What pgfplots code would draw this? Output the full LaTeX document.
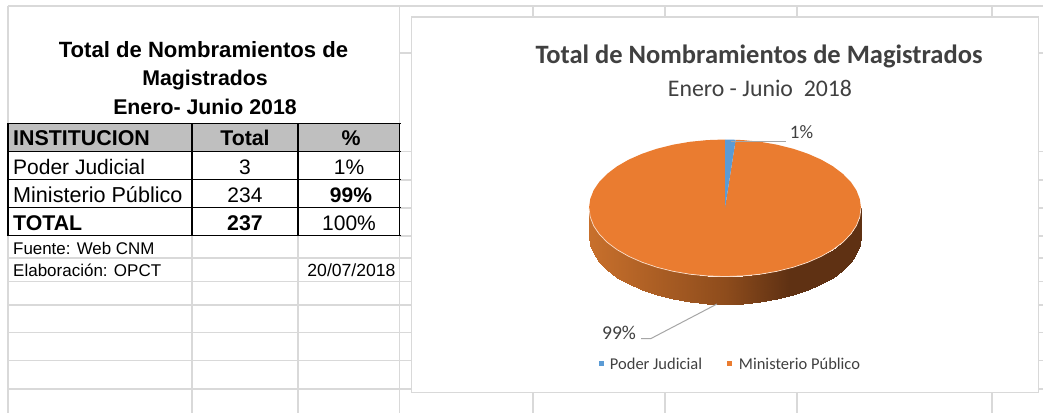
\documentclass[border=0pt]{standalone}
\usepackage{pgfplots}
\pgfplotsset{compat=1.18}
\usepackage{fontspec}
\setmainfont{Liberation Sans}
\newfontfamily\calib{Carlito}
\definecolor{gridc}{HTML}{D9D9D9}
\definecolor{txt}{HTML}{404040}
\definecolor{pblue}{HTML}{5B9BD5}
\definecolor{porange}{HTML}{EA7C30}
\definecolor{lead}{HTML}{A6A6A6}
\newcommand{\fs}[1]{\fontsize{#1bp}{#1bp}\selectfont}
\newcommand{\LT}[4]{\node[anchor=base west,inner sep=0pt,text=black] at (axis cs:#1,#2) {\fs{#3}#4};}
\newcommand{\CT}[4]{\node[anchor=base,inner sep=0pt,text=black] at (axis cs:#1,#2) {\fs{#3}#4};}
\newcommand{\RT}[4]{\node[anchor=base,inner sep=0pt,text=txt] at (axis cs:#1,#2) {\calib\fs{#3}#4};}
\begin{document}
\begin{tikzpicture}[x=1bp,y=1bp]
\begin{axis}[
  at={(0,0)},anchor=south west,
  width=1043bp,height=413bp,scale only axis,
  xmin=0,xmax=1043,ymin=0,ymax=413,y dir=reverse,
  hide axis,
  unbounded coords=jump,
  colormap={pie}{rgb255(0)=(200,112,44) rgb255(136)=(142,76,28) rgb255(200)=(95,49,19) rgb255(272)=(95,49,19)},
]
% page
\addplot[fill=white,draw=none,forget plot] coordinates {(0,0)(1043,0)(1043,413)(0,413)} -- cycle;
% spreadsheet grid
\addplot[gridc,line width=1.7bp,forget plot] coordinates {
 (8,6)(1043,6) (nan,nan)
 (8,6)(8,413) (nan,nan) (399.5,6)(399.5,413) (nan,nan)
 (192,123)(192,413) (nan,nan) (298,123)(298,413) (nan,nan)
 (532.7,6)(532.7,413) (nan,nan) (665,6)(665,413) (nan,nan)
 (797,6)(797,413) (nan,nan) (992,6)(992,413) (nan,nan)
 (400,53)(1043,53) (nan,nan)
 (400,151.5)(1043,151.5) (nan,nan) (400,180)(1043,180) (nan,nan)
 (400,208)(1043,208) (nan,nan) (400,236)(1043,236) (nan,nan)
 (8,258)(1043,258) (nan,nan) (8,281.5)(1043,281.5) (nan,nan)
 (8,305)(1043,305) (nan,nan) (8,332.5)(1043,332.5) (nan,nan)
 (8,360.5)(1043,360.5) (nan,nan) (8,389)(1043,389)
};
% chart panel
\addplot[fill=white,draw=gridc,line width=1.5bp,forget plot] coordinates {(411.3,17)(1038.7,17)(1038.7,392.7)(411.3,392.7)} -- cycle;
% table header and rules
\addplot[fill=black!25,draw=none,forget plot] coordinates {(8,123.5)(399.5,123.5)(399.5,151.5)(8,151.5)} -- cycle;
\addplot[black,line width=1.9bp,forget plot] coordinates {
 (7,123.5)(400.5,123.5) (nan,nan) (7,151.5)(400.5,151.5) (nan,nan)
 (7,179.5)(400.5,179.5) (nan,nan) (7,207.5)(400.5,207.5) (nan,nan)
 (7,235.5)(400.5,235.5) (nan,nan)
 (8,123.5)(8,235.5) (nan,nan) (192,123.5)(192,235.5) (nan,nan)
 (298,123.5)(298,235.5) (nan,nan) (399.5,123.5)(399.5,235.5)
};
% pie side
\addplot[surf,shader=interp,mesh/rows=2,mesh/cols=25,point meta=explicit,forget plot] coordinates {
 (589,208)[0] (590.2,216.9)[1.2] (593.6,225.7)[4.6] (599.3,234.2)[10.3] (607.2,242.3)[18.2]
 (617.1,249.7)[28.1] (628.8,256.4)[39.8] (642.2,262.3)[53.2] (657,267.3)[68] (673,271.3)[84]
 (689.8,274.2)[100.8] (707.2,275.9)[118.2] (725,276.5)[136] (742.8,275.9)[153.8] (760.2,274.2)[171.2]
 (777,271.3)[188] (793,267.3)[204] (807.8,262.3)[218.8] (821.2,256.4)[232.2] (832.9,249.7)[243.9]
 (842.8,242.3)[253.8] (850.7,234.2)[261.7] (856.4,225.7)[267.4] (859.8,216.9)[270.8] (861,208)[272]

 (589,236)[0] (590.2,244.9)[1.2] (593.6,253.7)[4.6] (599.3,262.2)[10.3] (607.2,270.3)[18.2]
 (617.1,277.7)[28.1] (628.8,284.4)[39.8] (642.2,290.3)[53.2] (657,295.3)[68] (673,299.3)[84]
 (689.8,302.2)[100.8] (707.2,303.9)[118.2] (725,304.5)[136] (742.8,303.9)[153.8] (760.2,302.2)[171.2]
 (777,299.3)[188] (793,295.3)[204] (807.8,290.3)[218.8] (821.2,284.4)[232.2] (832.9,277.7)[243.9]
 (842.8,270.3)[253.8] (850.7,262.2)[261.7] (856.4,253.7)[267.4] (859.8,244.9)[270.8] (861,236)[272]
};
% pie top: Ministerio Publico (234)
\addplot[fill=porange,draw=none,forget plot] coordinates {
 (725,208)(735.7,139.8)(742.8,140.1)(760.2,141.8)(777,144.7)(793,148.7)(807.8,153.7)(821.2,159.6)
 (832.9,166.3)(842.8,173.8)(850.7,181.8)(856.4,190.3)(859.8,199.1)(861,208)(859.8,216.9)(856.4,225.7)
 (850.7,234.2)(842.8,242.3)(832.9,249.7)(821.2,256.4)(807.8,262.3)(793,267.3)(777,271.3)(760.2,274.2)
 (742.8,275.9)(725,276.5)(707.2,275.9)(689.8,274.2)(673,271.3)(657,267.3)(642.2,262.3)(628.8,256.4)
 (617.1,249.7)(607.2,242.3)(599.3,234.2)(593.6,225.7)(590.2,216.9)(589,208)(590.2,199.1)(593.6,190.3)
 (599.3,181.8)(607.2,173.8)(617.1,166.3)(628.8,159.6)(642.2,153.7)(657,148.7)(673,144.7)(689.8,141.8)
 (707.2,140.1)(725,139.5)
} -- cycle;
% pie top: Poder Judicial (3)
\addplot[fill=pblue,draw=none,forget plot] coordinates {(725,208)(725,139.5)(730,139.6)(735.7,139.8)} -- cycle;
% rim
\addplot[color=white!75!porange,line width=.7bp,forget plot] coordinates {
 (589,208)(590.2,216.9)(593.6,225.7)(599.3,234.2)(607.2,242.3)(617.1,249.7)(628.8,256.4)(642.2,262.3)(657,267.3)(673,271.3)
 (689.8,274.2)(707.2,275.9)(725,276.5)(742.8,275.9)(760.2,274.2)(777,271.3)(793,267.3)(807.8,262.3)(821.2,256.4)(832.9,249.7)
 (842.8,242.3)(850.7,234.2)(856.4,225.7)(859.8,216.9)(861,208)
};
% leaders
\addplot[lead,line width=1bp,forget plot] coordinates {(731,141)(786,141)};
\addplot[lead,line width=1bp,forget plot] coordinates {(641,338.5)(651,338.5)(717,304)};
% legend keys
\addplot[only marks,color=pblue,mark=square*,mark size=2.2bp,forget plot] coordinates {(601,363)};
\addplot[only marks,color=porange,mark=square*,mark size=2.2bp,forget plot] coordinates {(729,363)};
% texts, left table
\CT{203.5}{58}{22.1}{\bfseries Total de Nombramientos de}
\CT{205}{86}{21.3}{\bfseries Magistrados}
\CT{205}{114}{21.3}{\bfseries Enero- Junio 2018}
\LT{13}{145.7}{21.4}{\bfseries INSTITUCION}
\CT{245}{145.7}{21.3}{\bfseries Total}
\CT{351}{145.7}{21.3}{\bfseries \%}
\LT{13}{174}{21}{Poder Judicial}
\CT{245}{174}{21}{3}
\CT{349}{174}{21}{1\%}
\LT{13}{202}{21.6}{Ministerio Público}
\CT{245}{202}{21}{234}
\CT{351}{202}{21}{\bfseries 99\%}
\LT{13}{230}{21.3}{\bfseries TOTAL}
\CT{245}{230}{21.3}{\bfseries 237}
\CT{349}{230}{21}{100\%}
\LT{13}{254}{16.9}{Fuente: Web CNM}
\LT{13}{276.7}{17}{Elaboración: OPCT}
\CT{351.5}{276.7}{17.6}{20/07/2018}
% texts, chart
\RT{759}{64}{26.5}{\bfseries Total de Nombramientos de Magistrados}
\RT{760}{96.7}{23.8}{Enero - Junio\ \ 2018}
\RT{801.5}{138}{19}{1\%}
\RT{619}{339}{19.6}{99\%}
\RT{656}{369}{16.5}{Poder Judicial}
\RT{799.5}{369}{16.5}{Ministerio Público}
\end{axis}
\end{tikzpicture}
\end{document}
